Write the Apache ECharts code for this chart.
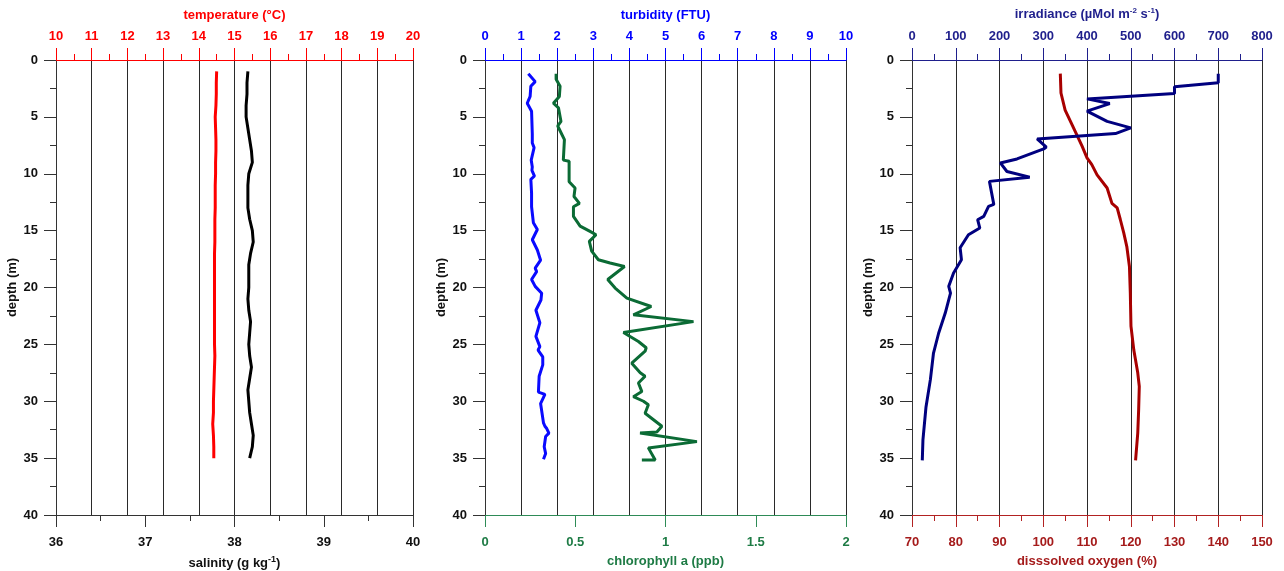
<!DOCTYPE html>
<html><head><meta charset="utf-8">
<script src="https://cdn.jsdelivr.net/npm/echarts@6/dist/echarts.min.js"></script>
<style>html,body{margin:0;padding:0;background:#fff}#c{width:1284px;height:571px}</style>
</head><body><div id="c"></div>
<script>
// ---- data (depth in m) ----
const depthTS = [1,2,3,4,5,6,7,8,9,10,11,12,13,14,15,16,17,18,19,20,21,22,23,24,25,26,27,28,29,30,31,32,33,34,35];
const temperature = [14.50,14.49,14.49,14.48,14.46,14.47,14.48,14.48,14.47,14.47,14.46,14.46,14.46,14.45,14.45,14.45,14.44,14.44,14.44,14.44,14.44,14.44,14.44,14.44,14.44,14.45,14.44,14.43,14.42,14.41,14.41,14.39,14.41,14.42,14.42];
const salinity = [38.15,38.14,38.14,38.13,38.13,38.15,38.17,38.19,38.20,38.16,38.15,38.15,38.15,38.17,38.20,38.21,38.18,38.16,38.16,38.16,38.15,38.16,38.18,38.17,38.16,38.17,38.19,38.17,38.15,38.16,38.17,38.19,38.21,38.20,38.17];

const depthTurb = [1.2,1.9,2.3,3.2,3.8,4.5,5.5,6.5,7.3,7.7,8.8,9.4,9.7,10.2,10.5,11.7,12.9,14.3,14.9,15.8,16.7,17.6,18.3,18.6,19.3,19.9,20.5,21.1,22.0,23.1,24.3,25.2,25.5,26.1,26.8,27.8,29.2,29.4,30.2,31.9,32.2,32.4,32.8,33.1,34.0,34.6,35.1];
const turbidity = [1.20,1.39,1.27,1.25,1.17,1.29,1.30,1.31,1.31,1.36,1.28,1.31,1.30,1.37,1.27,1.29,1.29,1.34,1.45,1.31,1.45,1.54,1.39,1.43,1.29,1.39,1.57,1.55,1.41,1.52,1.41,1.52,1.47,1.60,1.60,1.50,1.48,1.66,1.54,1.62,1.66,1.71,1.77,1.68,1.64,1.68,1.62];

const depthChl = [1.2,1.7,2.3,3.2,3.8,4.2,5.4,5.8,7.0,8.8,8.9,10.7,11.25,12.0,12.6,12.9,13.75,14.6,15.07,15.36,15.95,16.8,17.56,17.85,18.15,19.3,20.05,20.93,21.67,22.4,23.0,23.96,24.75,25.3,25.6,26.65,27.5,27.8,28.4,29.15,29.6,30.0,30.3,31.05,32.2,32.7,32.8,33.55,34.1,35.17,35.17];
const chlorophyll = [0.394,0.394,0.416,0.412,0.379,0.407,0.421,0.403,0.44,0.434,0.466,0.466,0.499,0.493,0.523,0.49,0.49,0.527,0.582,0.615,0.578,0.591,0.628,0.693,0.773,0.680,0.721,0.786,0.921,0.822,1.155,0.767,0.850,0.893,0.887,0.813,0.86,0.887,0.85,0.869,0.822,0.878,0.905,0.887,0.98,0.952,0.859,1.174,0.905,0.943,0.869];

const depthIrr = [1.2,2.0,2.36,2.95,3.42,3.83,4.5,5.4,5.97,6.47,6.94,7.65,7.82,8.7,9.05,9.8,10.3,10.67,12.7,12.87,13.75,14.04,14.77,15.36,16.5,17.56,18.73,19.9,20.5,22.25,24.0,25.8,28.1,30.5,33.4,35.2];
const irradiance = [700,700,600,600,400,452,400,446,500,465,286,307,301,240,202,217,269,177,187,175,164,150,155,129,110,113,95,84,88,76,61,49,42,32,25,23.5];

const depthOxy = [1.2,2.9,4.4,5.7,6.6,7.6,8.6,9.2,10.1,11.25,12.6,13.0,14.0,15.2,16.4,18.15,20.5,23.4,25.5,27.5,28.7,30.8,32.8,35.2];
const oxygen = [103.9,104.05,105.0,106.6,107.7,108.9,110.0,111.1,112.3,114.6,115.7,116.9,117.6,118.4,119.1,119.7,119.9,120.05,120.7,121.6,121.95,121.8,121.6,121.1];

const depthTicks = {min:0, max:40, interval:5};

// ---- helpers ----
const FONT = '"Liberation Sans", Arial, sans-serif';
const pairs = (xs, ds) => xs.map((v, i) => [v, ds[i]]);

function topAxis(grid, min, max, interval, color, name, minor) {
  return {
    type:'value', gridIndex:grid, position:'top', min, max, interval,
    axisLine:{show:true, onZero:false, lineStyle:{color, width:1}},
    axisTick:{show:true, inside:false, length:12, lineStyle:{color, width:1}},
    minorTick:{show:minor, splitNumber:2, length:6, lineStyle:{color, width:1}},
    axisLabel:{color, fontFamily:FONT, fontWeight:'bold', fontSize:13, margin:17},
    splitLine:{show:true, lineStyle:{color:'#2a2a2a', width:1}},
    minorSplitLine:{show:false},
    name, nameLocation:'middle', nameGap:38,
    nameTextStyle:{color, fontFamily:FONT, fontWeight:'bold', fontSize:13,
      rich:{n:{color, fontFamily:FONT, fontWeight:'bold', fontSize:13},
            s:{color, fontFamily:FONT, fontWeight:'bold', fontSize:8, padding:[0,0,7,0]}}}
  };
}
function bottomAxis(grid, min, max, interval, color, labelColor, name, minor) {
  return {
    type:'value', gridIndex:grid, position:'bottom', min, max, interval,
    axisLine:{show:true, onZero:false, lineStyle:{color, width:1}},
    axisTick:{show:true, inside:false, length:12, lineStyle:{color, width:1}},
    minorTick:{show:minor, splitNumber:2, length:6, lineStyle:{color, width:1}},
    axisLabel:{color:labelColor, fontFamily:FONT, fontWeight:'bold', fontSize:13, margin:21},
    splitLine:{show:false},
    name, nameLocation:'middle', nameGap:40,
    nameTextStyle:{color:labelColor, fontFamily:FONT, fontWeight:'bold', fontSize:13,
      rich:{n:{color:labelColor, fontFamily:FONT, fontWeight:'bold', fontSize:13},
            s:{color:labelColor, fontFamily:FONT, fontWeight:'bold', fontSize:9, padding:[0,0,7,0]}}}
  };
}
function depthAxis(grid) {
  return {
    type:'value', gridIndex:grid, inverse:true, min:depthTicks.min, max:depthTicks.max, interval:depthTicks.interval,
    axisLine:{show:true, onZero:false, lineStyle:{color:'#333', width:1}},
    axisTick:{show:true, length:12, lineStyle:{color:'#333', width:1}},
    minorTick:{show:true, splitNumber:2, length:6, lineStyle:{color:'#333', width:1}},
    axisLabel:{color:'#111', fontFamily:FONT, fontWeight:'bold', fontSize:13, margin:18},
    splitLine:{show:false},
    name:'depth (m)', nameLocation:'middle', nameGap:37, nameRotate:90,
    nameTextStyle:{color:'#111', fontFamily:FONT, fontWeight:'bold', fontSize:13}
  };
}
function line(xi, yi, data, color) {
  return {type:'line', xAxisIndex:xi, yAxisIndex:yi, data, symbol:'none', smooth:false,
    lineStyle:{color, width:3}, itemStyle:{color}, z:3};
}

const chart = echarts.init(document.getElementById('c'), null, {renderer:'canvas'});
chart.setOption({
  animation:false,
  backgroundColor:'#fff',
  grid:[
    {left:56, right:871, top:60, bottom:56, containLabel:false, outerBoundsMode:'none'},
    {left:485, right:438, top:60, bottom:56, containLabel:false, outerBoundsMode:'none'},
    {left:912, right:22, top:60, bottom:56, containLabel:false, outerBoundsMode:'none'}
  ],
  xAxis:[
    topAxis(0, 10, 20, 1, '#ff0000', 'temperature (°C)', true),
    bottomAxis(0, 36, 40, 1, '#333', '#111', '{n|salinity (g kg}{s|-1}{n|)}', true),
    topAxis(1, 0, 10, 1, '#0000ff', 'turbidity (FTU)', true),
    bottomAxis(1, 0, 2, 0.5, '#2e8b57', '#1e7b45', 'chlorophyll a (ppb)', false),
    topAxis(2, 0, 800, 100, '#1f1f8c', '{n|irradiance (µMol m}{s|-2}{n| s}{s|-1}{n|)}', true),
    bottomAxis(2, 70, 150, 10, '#b22222', '#a51b1b', 'disssolved oxygen (%)', true)
  ],
  yAxis:[depthAxis(0), depthAxis(1), depthAxis(2)],
  series:[
    line(0, 0, pairs(temperature, depthTS), '#ff0000'),
    line(1, 0, pairs(salinity, depthTS), '#000000'),
    line(2, 1, pairs(turbidity, depthTurb), '#0a0aff'),
    line(3, 1, pairs(chlorophyll, depthChl), '#0b6b35'),
    line(5, 2, pairs(oxygen, depthOxy), '#a80000'),
    line(4, 2, pairs(irradiance, depthIrr), '#00007f')
  ]
});
</script></body></html>
